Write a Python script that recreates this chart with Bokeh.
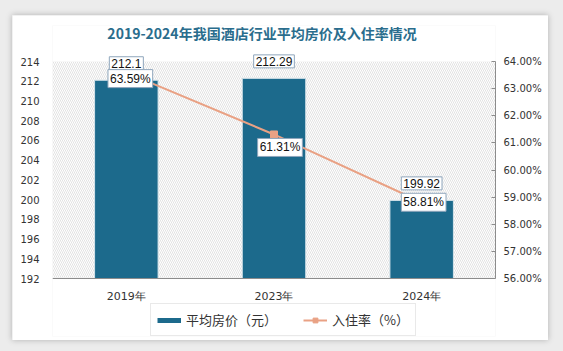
from bokeh.plotting import figure
from bokeh.models import (ColumnDataSource, Range1d, FactorRange, LinearAxis, Label, Span,
                          BoxAnnotation, Legend, LegendItem, FixedTicker, CustomJSTickFormatter)
from bokeh.layouts import column
from bokeh.embed import file_html
from bokeh.resources import INLINE

# ---- data ----
years = ["2019年", "2023年", "2024年"]
avg_price = [212.1, 212.29, 199.92]
occupancy = [63.59, 61.31, 58.81]
price_ticks = [192, 194, 196, 198, 200, 202, 204, 206, 208, 210, 212, 214]
rate_ticks = [56, 57, 58, 59, 60, 61, 62, 63, 64]
title_text = "2019-2024年我国酒店行业平均房价及入住率情况"
legend_price = "平均房价（元）"
legend_rate = "入住率（%）"

BAR = "#1c6a8c"
LINE = "#e9a184"
FONT = "DejaVu Sans"
PMIN, PMAX = price_ticks[0], price_ticks[-1]

# the frame reaches beyond the tick span (room for title, labels, category names and legend)
p = figure(width=536, height=325, x_range=FactorRange(*years, range_padding=0),
           y_range=Range1d(186.12, 217.65), output_backend="svg", toolbar_location=None,
           min_border_left=40, min_border_right=53, min_border_top=10, min_border_bottom=4,
           background_fill_color="white", border_fill_color="white", outline_line_color=None)
p.margin = (15, 15, 11, 12)
p.extra_y_ranges = {"rate": Range1d(53.862, 65.327)}

# hatched plotting area
p.add_layout(BoxAnnotation(top=PMAX, bottom=PMIN, fill_color="white", fill_alpha=1, line_color=None,
                           hatch_pattern="\\", hatch_color="#d6d6d6", hatch_scale=4,
                           hatch_weight=0.7, level="underlay"))
p.add_layout(Span(location=PMIN, dimension="width", line_color="#8c8c8c", line_width=1))

p.xgrid.visible = False
p.ygrid.visible = False
p.xaxis.visible = False

# title
p.add_layout(Label(x=1.5, y=PMAX, text=title_text, x_offset=-12, y_offset=29,
                   text_font="Noto Sans CJK SC", text_font_size="14px", text_font_style="bold",
                   text_color="#2a6d8d", text_align="center", text_baseline="middle"))

src = ColumnDataSource(dict(x=years, price=avg_price, rate=occupancy))

bars = p.vbar(x="x", top="price", bottom=PMIN, width=0.43, source=src,
              fill_color=BAR, line_color="#d5e3ea", line_width=1)

ra = LinearAxis(y_range_name="rate", ticker=FixedTicker(ticks=rate_ticks),
                bounds=(rate_ticks[0], rate_ticks[-1]),
                formatter=CustomJSTickFormatter(code="return tick.toFixed(2) + '%';"))
ra.axis_line_color = "#8c8c8c"
ra.major_tick_line_color = "#8c8c8c"
ra.major_tick_in = 4
ra.major_tick_out = 0
ra.minor_tick_line_color = None
ra.major_label_standoff = 8
ra.major_label_text_font = FONT
ra.major_label_text_font_size = "10px"
ra.major_label_text_color = "#333333"
p.add_layout(ra, "right")

la = p.yaxis[0]
la.ticker = FixedTicker(ticks=price_ticks)
la.axis_line_color = None
la.major_tick_line_color = None
la.major_tick_in = 0
la.major_tick_out = 0
la.minor_tick_line_color = None
la.minor_tick_out = 0
la.major_label_standoff = 13
la.major_label_text_font = FONT
la.major_label_text_font_size = "10px"
la.major_label_text_color = "#333333"

# category names under the baseline
for i, yr in enumerate(years):
    p.add_layout(Label(x=i + 0.5, y=PMIN, text=yr, y_offset=-18, text_font=FONT,
                       text_font_size="11px", text_color="#333333",
                       text_align="center", text_baseline="middle"))

ln = p.line(x="x", y="rate", source=src, y_range_name="rate", line_color=LINE, line_width=2)
mk = p.scatter(x="x", y="rate", source=src, y_range_name="rate", marker="square", size=7,
               fill_color=LINE, line_color=LINE)

common = dict(text_font="Liberation Sans", text_font_size="12px", text_color="#111111",
              text_align="center", text_baseline="middle", background_fill_color="white",
              border_line_color="#8fa6bc", border_line_width=1, padding=2)
rate_dx = [4, 6, 2]
rate_dy = [-6, -13, 0]
for i, yr in enumerate(years):
    p.add_layout(Label(x=i + 0.5, y=avg_price[i], text=f"{avg_price[i]:g}", y_offset=17, **common))
for i, yr in enumerate(years):
    p.add_layout(Label(x=i + 0.5, y=occupancy[i], text=f"{occupancy[i]:.2f}%",
                       y_range_name="rate", x_offset=rate_dx[i], y_offset=rate_dy[i], **common))

# legend swatch for the bars (a thick line, as in the reference)
swatch = p.line(x=[years[0]], y=[float("nan")], line_color=BAR, line_width=5)
legend = Legend(items=[LegendItem(label=legend_price, renderers=[swatch]),
                       LegendItem(label=legend_rate, renderers=[ln, mk])],
                orientation="horizontal", location=(98, 0),
                glyph_width=24, glyph_height=12, spacing=26, padding=6, margin=0,
                label_text_font="Noto Sans CJK SC", label_text_font_size="13px",
                label_text_color="#333333", label_standoff=5,
                border_line_color="#d4d4d4", background_fill_color="white")
p.add_layout(legend, "center")

layout = column(p, width=563, height=351, styles={"background-color": "#ececec"})
p.styles = {"box-shadow": "0 0 6px rgba(0,0,0,0.25)"}

open("out.html", "w").write(file_html(layout, INLINE))
